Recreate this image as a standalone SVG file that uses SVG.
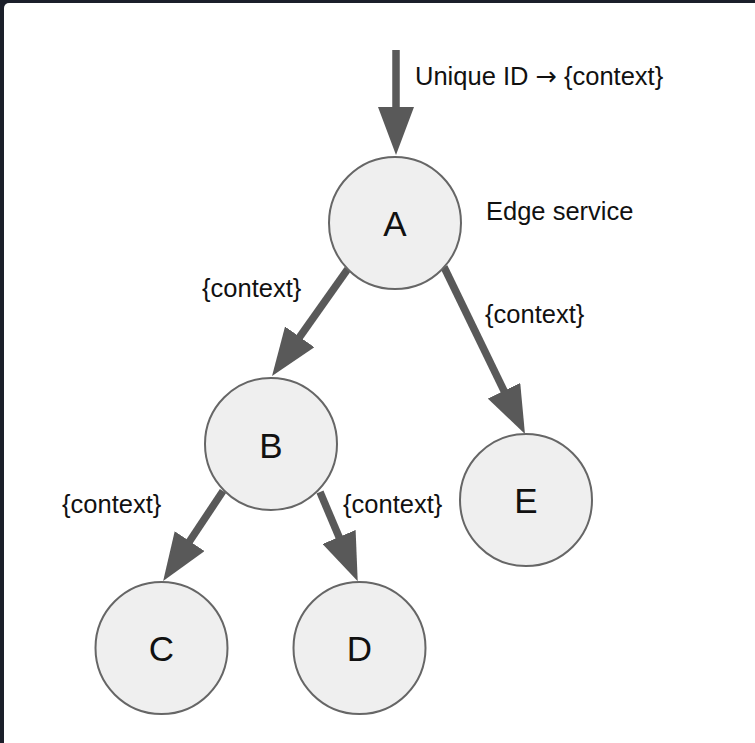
<svg xmlns="http://www.w3.org/2000/svg" width="755" height="743" viewBox="0 0 755 743">
  <style>
    .node circle { fill: #efefef; stroke: #666666; stroke-width: 2; }
    .node text { font-family: "Liberation Sans", Arial, sans-serif; font-size: 35px; fill: #111111; text-anchor: middle; }
    .label { font-family: "Liberation Sans", Arial, sans-serif; font-size: 25.5px; fill: #111111; }
    .arrow-glyph { font-family: "DejaVu Sans", sans-serif; }
    .edge { stroke: #595959; stroke-width: 7.5; fill: none; marker-end: url(#head); }
  </style>
  <defs>
    <marker id="head" viewBox="0 0 48 36" refX="2" refY="18" markerWidth="48" markerHeight="36" markerUnits="userSpaceOnUse" orient="auto">
      <path d="M0,0 L48,18 L0,36 z" fill="#595959"/>
    </marker>
  </defs>

  <!-- page frame -->
  <rect x="0" y="0" width="755" height="743" fill="#1b1f2a"/>
  <rect x="4" y="3" width="760" height="750" rx="5" fill="#ffffff"/>

  <!-- connectors -->
  <g id="connectors">
    <line class="edge" x1="396" y1="50" x2="396" y2="109"/>
    <line class="edge" x1="347.7" y1="269.1" x2="298.6" y2="338.5"/>
    <line class="edge" x1="444" y1="267" x2="504.9" y2="392.6"/>
    <line class="edge" x1="223" y1="491" x2="188.6" y2="542.8"/>
    <line class="edge" x1="320" y1="492" x2="339.8" y2="538.8"/>
  </g>

  <!-- nodes -->
  <g id="node-a" class="node">
    <circle cx="395" cy="223" r="66"/>
    <text x="395" y="236">A</text>
  </g>
  <g id="node-b" class="node">
    <circle cx="271" cy="444" r="66"/>
    <text x="271" y="458">B</text>
  </g>
  <g id="node-c" class="node">
    <circle cx="161.5" cy="648" r="66"/>
    <text x="161.5" y="661">C</text>
  </g>
  <g id="node-d" class="node">
    <circle cx="359.5" cy="648" r="66"/>
    <text x="359.5" y="661">D</text>
  </g>
  <g id="node-e" class="node">
    <circle cx="526" cy="500" r="66"/>
    <text x="526" y="513">E</text>
  </g>

  <!-- labels -->
  <g id="labels">
    <text class="label" x="415" y="85">Unique ID <tspan class="arrow-glyph">→</tspan> {context}</text>
    <text class="label" x="486" y="220">Edge service</text>
    <text class="label" x="202" y="297">{context}</text>
    <text class="label" x="485" y="323">{context}</text>
    <text class="label" x="62" y="513">{context}</text>
    <text class="label" x="343" y="513">{context}</text>
  </g>
</svg>
